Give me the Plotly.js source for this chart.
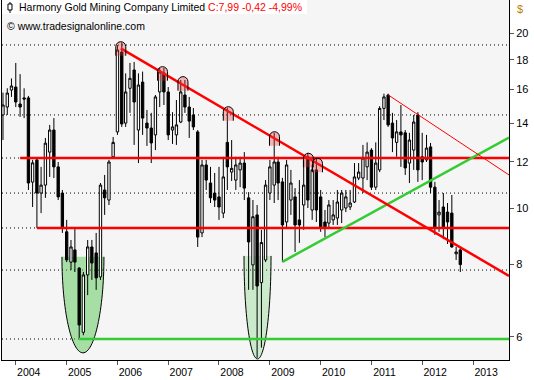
<!DOCTYPE html>
<html><head><meta charset="utf-8">
<script src="https://cdn.plot.ly/plotly-3.0.1.min.js"></script>
<style>html,body{margin:0;padding:0;background:#fff}#chart{width:534px;height:380px}</style>
</head><body><div id="chart"></div>
<script>
// Monthly bars, Oct 2003 .. Oct 2012
const months = [
 '2003-10-01','2003-11-01','2003-12-01',
 '2004-01-01','2004-02-01','2004-03-01','2004-04-01','2004-05-01','2004-06-01','2004-07-01','2004-08-01','2004-09-01','2004-10-01','2004-11-01','2004-12-01',
 '2005-01-01','2005-02-01','2005-03-01','2005-04-01','2005-05-01','2005-06-01','2005-07-01','2005-08-01','2005-09-01','2005-10-01','2005-11-01','2005-12-01',
 '2006-01-01','2006-02-01','2006-03-01','2006-04-01','2006-05-01','2006-06-01','2006-07-01','2006-08-01','2006-09-01','2006-10-01','2006-11-01','2006-12-01',
 '2007-01-01','2007-02-01','2007-03-01','2007-04-01','2007-05-01','2007-06-01','2007-07-01','2007-08-01','2007-09-01','2007-10-01','2007-11-01','2007-12-01',
 '2008-01-01','2008-02-01','2008-03-01','2008-04-01','2008-05-01','2008-06-01','2008-07-01','2008-08-01','2008-09-01','2008-10-01','2008-11-01','2008-12-01',
 '2009-01-01','2009-02-01','2009-03-01','2009-04-01','2009-05-01','2009-06-01','2009-07-01','2009-08-01','2009-09-01','2009-10-01','2009-11-01','2009-12-01',
 '2010-01-01','2010-02-01','2010-03-01','2010-04-01','2010-05-01','2010-06-01','2010-07-01','2010-08-01','2010-09-01','2010-10-01','2010-11-01','2010-12-01',
 '2011-01-01','2011-02-01','2011-03-01','2011-04-01','2011-05-01','2011-06-01','2011-07-01','2011-08-01','2011-09-01','2011-10-01','2011-11-01','2011-12-01',
 '2012-01-01','2012-02-01','2012-03-01','2012-04-01','2012-05-01','2012-06-01','2012-07-01','2012-08-01','2012-09-01','2012-10-01'
];
const openP = [
 14.46,14.92,15.96,
 16.15,15.10,15.47,15.47,11.08,12.10,10.61,10.95,12.48,13.62,11.77,10.61,
 9.10,8.07,8.47,7.88,6.11,7.67,8.57,8.37,7.61,10.74,10.32,12.25,
 13.52,18.55,14.00,16.07,17.28,13.62,16.47,14.00,13.73,13.36,15.84,17.08,
 15.84,13.62,13.36,14.06,15.65,14.92,14.46,13.52,9.06,11.86,11.04,10.61,
 10.45,9.80,12.97,11.53,11.17,11.63,11.95,10.41,7.98,9.73,7.44,8.14,
 10.61,10.95,12.00,11.09,9.46,10.32,10.45,9.54,10.12,12.25,9.92,11.63,
 10.45,9.46,9.42,9.54,9.61,9.92,10.00,10.04,10.24,11.26,11.26,11.77,
 12.58,10.86,11.63,14.84,15.65,14.00,12.97,13.52,13.47,11.95,12.58,14.46,
 12.25,12.10,12.74,10.86,9.73,10.04,9.84,9.80,8.34,8.47
];
const highP = [
 15.80,16.07,16.71,
 17.77,17.00,16.07,15.59,12.10,12.19,11.77,13.20,13.90,14.28,12.00,10.74,
 9.54,8.81,9.24,7.91,7.76,8.81,8.81,9.06,11.04,11.40,12.10,13.25,
 19.08,19.27,17.05,17.77,17.84,17.05,17.17,14.75,14.58,15.65,17.42,17.42,
 16.15,14.62,15.34,16.61,16.61,15.53,14.86,13.62,12.10,12.10,11.77,11.49,
 11.77,12.25,14.86,13.09,12.25,12.25,12.48,10.65,10.32,10.12,9.17,11.17,
 12.10,13.47,12.25,11.27,12.10,11.63,10.82,11.17,12.10,12.45,11.86,12.19,
 10.74,9.92,10.32,10.32,10.74,10.74,10.74,10.74,11.95,11.95,12.84,12.97,
 12.68,12.97,14.97,15.73,15.73,14.58,14.17,15.04,13.62,13.47,14.46,14.62,
 13.47,13.36,12.94,11.09,10.32,10.61,10.20,10.53,8.57,8.54
];
const lowP = [
 13.09,14.46,15.53,
 14.92,14.35,14.28,10.74,10.04,9.24,9.80,10.41,11.31,11.26,10.32,9.06,
 8.07,7.82,7.76,5.97,6.04,7.08,7.52,7.23,7.52,9.73,10.12,12.19,
 13.36,13.79,13.79,14.58,12.84,11.95,13.36,12.79,11.95,12.58,14.92,15.04,
 13.09,12.89,12.84,14.00,14.58,13.20,13.62,8.57,8.91,10.74,10.20,10.04,
 9.54,9.61,10.74,11.13,10.74,10.86,10.32,7.23,7.23,5.52,5.75,8.07,
 10.32,10.20,10.32,8.07,9.24,9.73,8.40,8.71,9.17,10.00,9.54,9.46,
 9.10,8.91,9.24,9.35,9.35,9.42,9.84,9.92,10.20,11.17,10.61,11.17,
 10.74,10.74,11.53,14.17,13.79,12.48,12.25,11.77,11.40,11.04,11.63,11.09,
 11.17,12.00,10.61,8.99,9.10,8.84,8.67,8.54,8.14,7.76
];
const closeP = [
 15.04,15.77,16.22,
 15.22,14.92,15.40,11.04,11.96,10.61,10.95,12.93,13.62,11.77,10.45,9.28,
 8.14,8.57,8.07,6.29,7.67,8.57,8.04,7.58,10.95,10.41,12.00,12.97,
 18.70,13.95,15.84,16.72,15.22,16.28,14.28,13.73,12.94,15.53,17.14,15.84,
 13.36,13.79,13.90,15.84,14.92,14.11,13.79,8.91,11.86,11.17,10.41,10.32,
 10.04,11.31,11.77,11.70,11.86,11.95,10.82,8.74,9.66,7.34,8.72,10.95,
 11.77,12.00,11.04,9.35,11.86,11.04,9.35,9.35,10.95,10.32,11.63,9.92,
 9.24,9.28,10.12,9.73,10.24,10.61,10.45,10.20,11.31,11.53,12.19,12.48,
 10.86,11.95,14.84,15.53,13.90,13.20,13.52,13.36,11.72,13.09,14.06,11.63,
 12.00,12.68,10.86,9.28,9.84,9.24,9.46,8.57,8.40,7.99
];
const yearTicks = ['2004-01-01','2005-01-01','2006-01-01','2007-01-01','2008-01-01','2009-01-01','2010-01-01','2011-01-01','2012-01-01','2013-01-01'];
const yearLabels = ['2004','2005','2006','2007','2008','2009','2010','2011','2012','2013'];
const priceTicks = [6,8,10,12,14,16,18,20];
const priceLabels = ['6','8','10','12','14','16','18','20'];
const dottedLevels = [19.08,14.46,12.19,10.61,9.24,7.82,5.95];
// drawn analysis objects
const xEnd = '2013-09-16', xStart = '2003-09-24';
const redSupport = [{x0:'2004-02-01', y:12.19},{x0:'2004-06-01', y:9.24}];
const greenSupport = {x0:'2005-04-01', y:5.95};
const redTrend = {x0:'2006-01-25', y0:18.83, x1:xEnd, y1:7.64};
const thinRedTrend = {x0:'2011-05-02', y0:15.65, x1:xEnd, y1:11.4};
const greenTrend = {x0:'2009-04-01', y0:8.08, x1:xEnd, y1:13.22};
const domeDates = ['2006-01-25','2006-11-21','2007-04-17','2008-03-08','2009-02-03','2009-10-05','2009-12-09'];
const domePrices = [19.33,17.51,16.83,14.94,13.53,12.42,12.18];
const bowls = [
  {x:'2005-04-28', y:8.24, rx:21, h:96, fill:'rgba(70,195,70,0.45)'},
  {x:'2008-10-04', y:8.27, rx:13.5, h:103, fill:'rgba(70,195,70,0.24)'}
];

const FONT = 'Liberation Sans, Arial, sans-serif';
const shapes = [];
dottedLevels.forEach(v => shapes.push({type:'line', xref:'paper', x0:0, x1:1, yref:'y', y0:v, y1:v,
  line:{color:'#000', width:1, dash:'1px,3px'}, layer:'below'}));
bowls.forEach(b => {
  const k = 0.5523, r=b.rx, h=b.h;
  const curve = `C ${r} ${-k*h} ${k*r} ${-h} 0 ${-h} C ${-k*r} ${-h} ${-r} ${-k*h} ${-r} 0`;
  shapes.push({type:'path', xref:'x', yref:'y', xsizemode:'pixel', ysizemode:'pixel', xanchor:b.x, yanchor:b.y,
    path:`M ${-r} 0 L ${r} 0 ${curve} Z`, fillcolor:b.fill, line:{width:0}, layer:'below'});
  shapes.push({type:'path', xref:'x', yref:'y', xsizemode:'pixel', ysizemode:'pixel', xanchor:b.x, yanchor:b.y,
    path:`M ${r} 0 ${curve}`, fillcolor:'rgba(0,0,0,0)', line:{color:'#000', width:1}, layer:'below'});
});
redSupport.forEach(s => shapes.push({type:'line', xref:'x', yref:'y', x0:s.x0, x1:xEnd, y0:s.y, y1:s.y, line:{color:'#ff0000', width:2.5}}));
shapes.push({type:'line', xref:'x', yref:'y', x0:greenSupport.x0, x1:xEnd, y0:greenSupport.y, y1:greenSupport.y, line:{color:'#33cc33', width:2.5}});
shapes.push({type:'line', xref:'x', yref:'y', x0:greenTrend.x0, y0:greenTrend.y0, x1:greenTrend.x1, y1:greenTrend.y1, line:{color:'#33cc33', width:2.5}});
shapes.push({type:'line', xref:'x', yref:'y', x0:redTrend.x0, y0:redTrend.y0, x1:redTrend.x1, y1:redTrend.y1, line:{color:'#ff0000', width:2.5}});
shapes.push({type:'line', xref:'x', yref:'y', x0:thinRedTrend.x0, y0:thinRedTrend.y0, x1:thinRedTrend.x1, y1:thinRedTrend.y1, line:{color:'#ff0000', width:1}});
domeDates.forEach((d,i) => {
  const dome = 'L -5 -5 C -5 -2 -2.5 0 0 0 C 2.5 0 5 -2 5 -5 L 5 -14';
  shapes.push({type:'path', xref:'x', yref:'y', xsizemode:'pixel', ysizemode:'pixel', xanchor:d, yanchor:domePrices[i],
    path:'M -5 -14 ' + dome + ' Z', fillcolor:'rgba(235,60,60,0.35)', line:{width:0}});
  shapes.push({type:'path', xref:'x', yref:'y', xsizemode:'pixel', ysizemode:'pixel', xanchor:d, yanchor:domePrices[i],
    path:'M -5 -14 ' + dome, fillcolor:'rgba(0,0,0,0)', line:{color:'#000', width:1}});
});
// header box + icon
shapes.push({type:'rect', xref:'paper', yref:'paper', x0:0, x1:0.6016, y0:0.9611, y1:1, fillcolor:'#ffffff', line:{width:0}});
shapes.push({type:'line', xref:'paper', yref:'paper', x0:0.0158, x1:0.0158, y0:0.9639, y1:0.9944, line:{color:'#000', width:1}});
shapes.push({type:'rect', xref:'paper', yref:'paper', x0:0.0118, x1:0.0197, y0:0.9722, y1:0.9889, fillcolor:'#ffffff', line:{color:'#000', width:1}});

const trace = {
  type:'candlestick', x:months, open:openP, high:highP, low:lowP, close:closeP,
  increasing:{line:{color:'#000', width:1}, fillcolor:'#ffffff'},
  decreasing:{line:{color:'#000', width:1}, fillcolor:'#000000'},
  whiskerwidth:0, hoverinfo:'skip', showlegend:false
};

const layout = {
  width:534, height:380, margin:{l:2, r:25, t:0, b:20},
  paper_bgcolor:'#ffffff', plot_bgcolor:'#f5f5f5', showlegend:false,
  boxgap:0.4, boxgroupgap:0,
  font:{family:FONT, size:11, color:'#000'},
  xaxis:{type:'date', range:[xStart, xEnd], tickmode:'array', tickvals:yearTicks, ticktext:yearLabels,
    ticks:'outside', ticklen:4, tickcolor:'#555', showgrid:false, zeroline:false,
    showline:true, linecolor:'#000', linewidth:1, ticklabelshift:13, ticklabelstandoff:-2,
    tickfont:{family:FONT, size:10.5, color:'#000'}, rangeslider:{visible:false}, fixedrange:true},
  yaxis:{type:'log', side:'right', range:[0.73838, 1.35800], tickmode:'array', tickvals:priceTicks, ticktext:priceLabels,
    ticks:'outside', ticklen:4, tickcolor:'#555', showgrid:false, zeroline:false,
    showline:true, mirror:true, linecolor:'#000', linewidth:1,
    tickfont:{family:FONT, size:11, color:'#000'}, fixedrange:true},
  shapes:shapes,
  annotations:[
    {xref:'paper', yref:'paper', x:0.0296, y:0.9806, xanchor:'left', yanchor:'middle', showarrow:false,
     text:'Harmony Gold Mining Company Limited <span style="color:#ff0000">C:7,99 -0,42 -4,99%</span>',
     font:{family:FONT, size:10.5, color:'#000'}},
    {xref:'paper', yref:'paper', x:0.0059, y:0.9278, xanchor:'left', yanchor:'middle', showarrow:false,
     text:'© www.tradesignalonline.com', font:{family:FONT, size:10.5, color:'#000'}},
    {xref:'paper', yref:'paper', x:1.0118, y:0.975, xanchor:'left', yanchor:'middle', showarrow:false,
     text:'$', font:{family:FONT, size:11, color:'#c08000'}}
  ]
};
Plotly.newPlot('chart', [trace], layout, {staticPlot:true, displayModeBar:false});
</script></body></html>
